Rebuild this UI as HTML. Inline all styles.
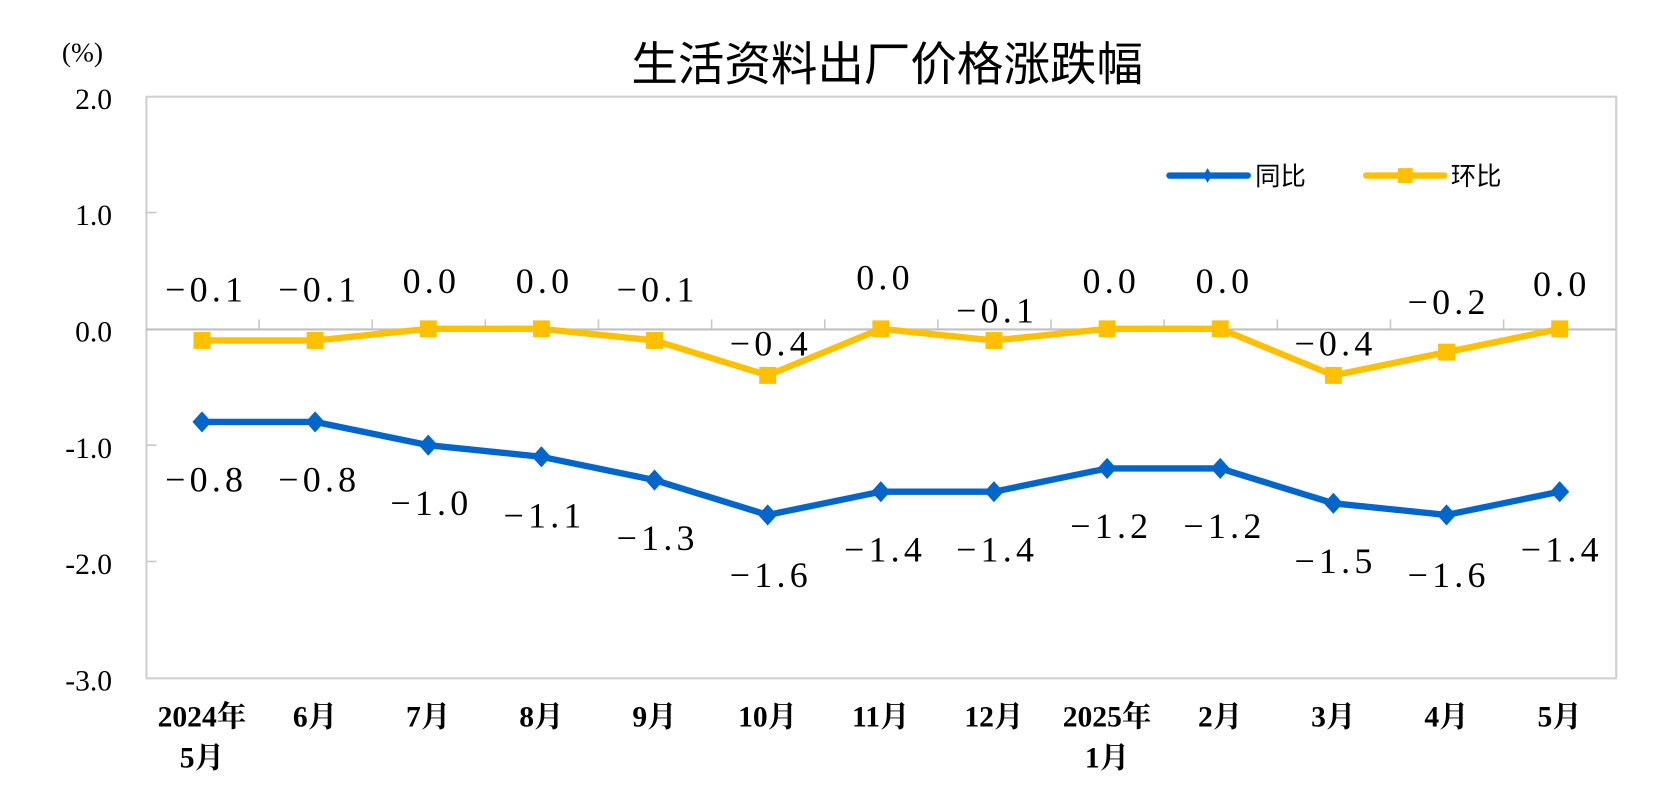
<!DOCTYPE html>
<html><head><meta charset="utf-8"><style>
html,body{margin:0;padding:0;background:#fff;width:1658px;height:795px;overflow:hidden}
svg text{font-family:"Liberation Serif","Noto Serif CJK SC",serif;fill:#000}
.dl{font-size:34px;letter-spacing:4px}
.xl{font-size:28px;font-weight:bold}
.yl{font-size:28px}
</style></head><body>
<svg width="1658" height="795" xmlns="http://www.w3.org/2000/svg">
<g transform="scale(1.0574)">
<text x="839" y="76" text-anchor="middle" style="font-family:'Noto Sans CJK SC',sans-serif;font-size:44px">生活资料出厂价格涨跌幅</text>
<text x="78" y="58" text-anchor="middle" class="yl" style="font-size:26px">(%)</text>
<rect x="138.5" y="91.5" width="1390" height="550" fill="none" stroke="#d0d0d0" stroke-width="2"/>
<line x1="138" y1="311.5" x2="1528" y2="311.5" stroke="#c0c0c0" stroke-width="2"/>
<g stroke="#c8c8c8" stroke-width="1.5">
<line x1="138" y1="201" x2="148" y2="201"/><line x1="138" y1="421" x2="148" y2="421"/><line x1="138" y1="531" x2="148" y2="531"/>
<line x1="245" y1="311" x2="245" y2="302"/><line x1="352" y1="311" x2="352" y2="302"/><line x1="459" y1="311" x2="459" y2="302"/><line x1="566" y1="311" x2="566" y2="302"/><line x1="673" y1="311" x2="673" y2="302"/><line x1="780" y1="311" x2="780" y2="302"/><line x1="887" y1="311" x2="887" y2="302"/><line x1="994" y1="311" x2="994" y2="302"/><line x1="1101" y1="311" x2="1101" y2="302"/><line x1="1208" y1="311" x2="1208" y2="302"/><line x1="1315" y1="311" x2="1315" y2="302"/><line x1="1422" y1="311" x2="1422" y2="302"/>
</g>
<g text-anchor="end">
<text x="106" y="103" class="yl">2.0</text><text x="106" y="213" class="yl">1.0</text><text x="106" y="323" class="yl">0.0</text><text x="106" y="433" class="yl">-1.0</text><text x="106" y="543" class="yl">-2.0</text><text x="106" y="653" class="yl">-3.0</text>
</g>
<g text-anchor="middle">
<text class="xl" x="191" y="687">2024年</text><text class="xl" x="191" y="726">5月</text>
<text class="xl" x="298" y="687">6月</text><text class="xl" x="405" y="687">7月</text><text class="xl" x="512" y="687">8月</text><text class="xl" x="619" y="687">9月</text><text class="xl" x="726" y="687">10月</text><text class="xl" x="833" y="687">11月</text><text class="xl" x="940" y="687">12月</text>
<text class="xl" x="1047" y="687">2025年</text><text class="xl" x="1047" y="726">1月</text>
<text class="xl" x="1154" y="687">2月</text><text class="xl" x="1261" y="687">3月</text><text class="xl" x="1368" y="687">4月</text><text class="xl" x="1475" y="687">5月</text>
</g>
<polyline fill="none" stroke="#FFC000" stroke-width="6" stroke-linejoin="round" points="191,322 298,322 405,311 512,311 619,322 726,355 833,311 940,322 1047,311 1154,311 1261,355 1368,333 1475,311"/>
<g fill="#FFC000">
<rect x="183" y="314" width="16" height="16"/><rect x="290" y="314" width="16" height="16"/><rect x="397" y="303" width="16" height="16"/><rect x="504" y="303" width="16" height="16"/><rect x="611" y="314" width="16" height="16"/><rect x="718" y="347" width="16" height="16"/><rect x="825" y="303" width="16" height="16"/><rect x="932" y="314" width="16" height="16"/><rect x="1039" y="303" width="16" height="16"/><rect x="1146" y="303" width="16" height="16"/><rect x="1253" y="347" width="16" height="16"/><rect x="1360" y="325" width="16" height="16"/><rect x="1467" y="303" width="16" height="16"/>
</g>
<polyline fill="none" stroke="#0066CC" stroke-width="6" stroke-linejoin="round" points="191,399 298,399 405,421 512,432 619,454 726,487 833,465 940,465 1047,443 1154,443 1261,476 1368,487 1475,465"/>
<g fill="#0066CC">
<path d="M191,389l9,10l-9,10l-9,-10z"/><path d="M298,389l9,10l-9,10l-9,-10z"/><path d="M405,411l9,10l-9,10l-9,-10z"/><path d="M512,422l9,10l-9,10l-9,-10z"/><path d="M619,444l9,10l-9,10l-9,-10z"/><path d="M726,477l9,10l-9,10l-9,-10z"/><path d="M833,455l9,10l-9,10l-9,-10z"/><path d="M940,455l9,10l-9,10l-9,-10z"/><path d="M1047,433l9,10l-9,10l-9,-10z"/><path d="M1154,433l9,10l-9,10l-9,-10z"/><path d="M1261,466l9,10l-9,10l-9,-10z"/><path d="M1368,477l9,10l-9,10l-9,-10z"/><path d="M1475,455l9,10l-9,10l-9,-10z"/>
</g>
<g text-anchor="middle">
<text class="dl" x="195" y="285">−0.1</text><text class="dl" x="302" y="285">−0.1</text><text class="dl" x="408" y="277">0.0</text><text class="dl" x="515" y="277">0.0</text><text class="dl" x="622" y="285">−0.1</text><text class="dl" x="729" y="336">−0.4</text><text class="dl" x="837" y="274">0.0</text><text class="dl" x="943" y="305">−0.1</text><text class="dl" x="1051" y="277">0.0</text><text class="dl" x="1158" y="277">0.0</text><text class="dl" x="1263" y="336">−0.4</text><text class="dl" x="1370" y="297">−0.2</text><text class="dl" x="1477" y="280">0.0</text>
<text class="dl" x="195" y="465">−0.8</text><text class="dl" x="302" y="465">−0.8</text><text class="dl" x="408" y="487">−1.0</text><text class="dl" x="515" y="499">−1.1</text><text class="dl" x="622" y="520">−1.3</text><text class="dl" x="729" y="555">−1.6</text><text class="dl" x="837" y="531">−1.4</text><text class="dl" x="943" y="531">−1.4</text><text class="dl" x="1051" y="509">−1.2</text><text class="dl" x="1158" y="509">−1.2</text><text class="dl" x="1263" y="542">−1.5</text><text class="dl" x="1370" y="555">−1.6</text><text class="dl" x="1477" y="531">−1.4</text>
</g>
<line x1="1106" y1="166" x2="1180" y2="166" stroke="#0066CC" stroke-width="6" stroke-linecap="round"/>
<path d="M1142,159l4,7l-4,7l-4,-7z" fill="#0066CC"/>
<text x="1187" y="175" style="font-family:'Noto Sans CJK SC',sans-serif;font-size:24px">同比</text>
<line x1="1292" y1="166" x2="1366" y2="166" stroke="#FFC000" stroke-width="6" stroke-linecap="round"/>
<rect x="1322" y="159" width="14" height="14" fill="#FFC000"/>
<text x="1372" y="175" style="font-family:'Noto Sans CJK SC',sans-serif;font-size:24px">环比</text>
</g>
</svg>
</body></html>
